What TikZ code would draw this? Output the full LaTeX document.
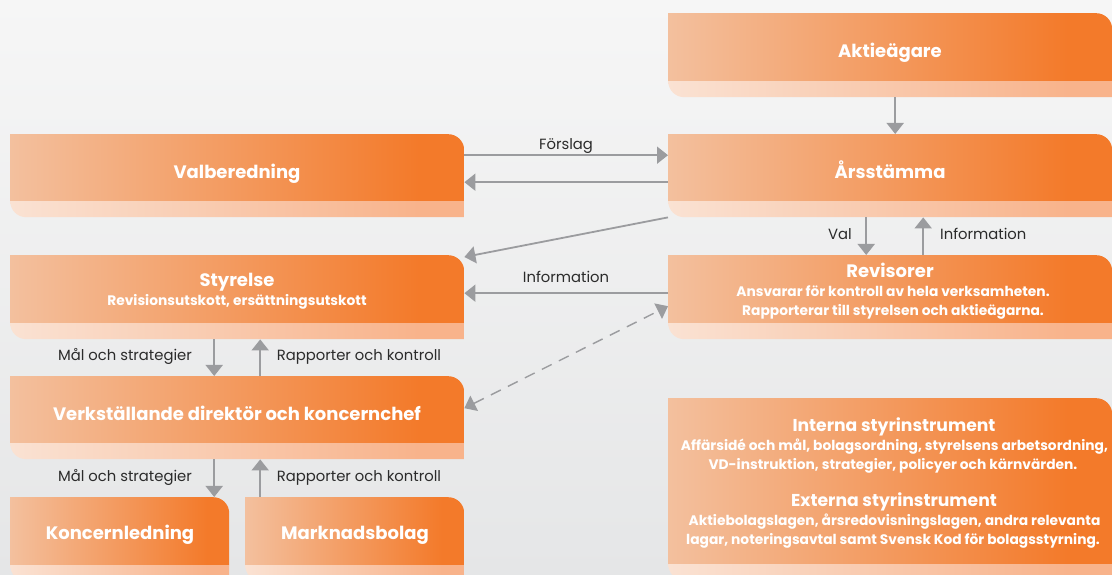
\documentclass[tikz,border=0pt]{standalone}
\usepackage{fontspec}
\setmainfont{Poppins}
\usetikzlibrary{arrows.meta,calc}

% palette
\definecolor{bgtop}{HTML}{F6F6F6}
\definecolor{bgbot}{HTML}{E5E6E7}
\definecolor{bodyA}{HTML}{F3C09E}
\definecolor{bodyB}{HTML}{F37A2A}
\definecolor{stripA}{HTML}{FAE2D3}
\definecolor{stripB}{HTML}{F8B38B}
\definecolor{arrowgray}{HTML}{9B9C9F}
\definecolor{labelgray}{HTML}{2B2B2B}

% horizontal fills for the box body and its lower band
\pgfdeclarehorizontalshading{bodyshade}{100bp}{color(0bp)=(bodyA); color(25bp)=(bodyA); color(70bp)=(bodyB); color(100bp)=(bodyB)}
\pgfdeclarehorizontalshading{stripshade}{100bp}{color(0bp)=(stripA); color(25bp)=(stripA); color(70bp)=(stripB); color(100bp)=(stripB)}

\begin{document}
\begin{tikzpicture}[x=1pt,y=1pt,
  orgbox/.style={rectangle, draw=none, inner sep=0pt, anchor=north west,
    path picture={
      \shade[shading=bodyshade] let \p1=(path picture bounding box.north west), \p2=(path picture bounding box.south east) in
        (\x1,\y1) -- (\x2-16pt,\y1) arc[start angle=90,end angle=0,radius=16pt]
        -- (\x2,\y2+16pt) -- (\x1,\y2+16pt) -- cycle;
      \shade[shading=stripshade] let \p1=(path picture bounding box.north west), \p2=(path picture bounding box.south east) in
        (\x1,\y2+16pt) -- (\x2,\y2+16pt) -- (\x2,\y2)
        -- (\x1+16pt,\y2) arc[start angle=270,end angle=180,radius=16pt] -- cycle;
    }},
  boxtitle/.style={text=white, anchor=base, inner sep=0pt, font=\bfseries\fontsize{18}{21}\selectfont},
  instrtitle/.style={boxtitle, font=\bfseries\fontsize{17.2}{21}\selectfont},
  boxsub/.style={text=white, anchor=base, inner sep=0pt, font=\bfseries\fontsize{13.8}{19}\selectfont},
  lbl/.style={text=labelgray, anchor=base, inner sep=0pt, font=\fontsize{14.8}{17}\selectfont},
  arr/.style={draw=arrowgray, line width=1.8pt, -{Triangle[length=11pt,width=17pt]}},
  dasharr/.style={draw=arrowgray, line width=1.4pt, dash pattern=on 11pt off 8pt,
    {Triangle[length=11pt,width=17pt]}-{Triangle[length=11pt,width=17pt]}}
]
\useasboundingbox (0,0) rectangle (1112,575);
\clip (0,0) rectangle (1112,575);
\shade[top color=bgtop, bottom color=bgbot] (0,0) rectangle (1112,575);

% boxes
\node[orgbox, minimum width=444pt, minimum height=84pt] (akt)  at (668,562) {};
\node[orgbox, minimum width=444pt, minimum height=83pt] (ars)  at (668,441) {};
\node[orgbox, minimum width=454pt, minimum height=83pt] (valb) at (10,441) {};
\node[orgbox, minimum width=454pt, minimum height=84pt] (sty)  at (10,320) {};
\node[orgbox, minimum width=444pt, minimum height=84pt] (rev)  at (668,320) {};
\node[orgbox, minimum width=454pt, minimum height=83pt] (vd)   at (10,199) {};
\node[orgbox, minimum width=219pt, minimum height=84pt] (kon)  at (10,78) {};
\node[orgbox, minimum width=219pt, minimum height=84pt] (mark) at (245,78) {};
\node[orgbox, minimum width=444pt, minimum height=182pt] (instr) at (668,177) {};

% box texts
\node[boxtitle] (aktT)  at (890,517) {Aktieägare};
\node[boxtitle] (arsT)  at (890,396) {Årsstämma};
\node[boxtitle] (valbT) at (237,396) {Valberedning};
\node[boxtitle] (styT)  at (237,288) {Styrelse};
\node[boxsub]   (styS)  at (237,269) {Revisionsutskott, ersättningsutskott};
\node[boxtitle] (revT)  at (890,297.7) {Revisorer};
\node[boxsub]   (revS1) at (893,278.3) {Ansvarar för kontroll av hela verksamheten.};
\node[boxsub]   (revS2) at (893,259.3) {Rapporterar till styrelsen och aktieägarna.};
\node[boxtitle] (vdT)   at (237,154.3) {Verkställande direktör och koncernchef};
\node[boxtitle] (konT)  at (120,35) {Koncernledning};
\node[boxtitle] (markT) at (355,35) {Marknadsbolag};
\node[instrtitle] (intT)  at (894,143.3) {Interna styrinstrument};
\node[boxsub]   (intS1) at (894.5,124.3) {Affärsidé och mål, bolagsordning, styrelsens arbetsordning,};
\node[boxsub]   (intS2) at (893,105) {VD-instruktion, strategier, policyer och kärnvärden.};
\node[instrtitle] (extT)  at (894,68.3) {Externa styrinstrument};
\node[boxsub]   (extS1) at (894.5,49) {Aktiebolagslagen, årsredovisningslagen, andra relevanta};
\node[boxsub]   (extS2) at (893,30) {lagar, noteringsavtal samt Svensk Kod för bolagsstyrning.};

% connectors
\draw[arr] ([xshift=5pt]akt.south) -- ([xshift=5pt]ars.north);
\draw[arr] ([yshift=20.5pt]valb.east) -- ([yshift=20.5pt]ars.west);
\node[lbl] (forslag) at (566,425.7) {Förslag};
\draw[arr] ([yshift=-6.5pt]ars.west) -- ([yshift=-6.5pt]valb.east);
\draw[arr] (ars.south west) -- ([yshift=-2pt]sty.north east);
\draw[arr] ([yshift=4pt]rev.west) -- ([yshift=4pt]sty.east);
\node[lbl] (info1) at (566,292.7) {Information};
\draw[dasharr] ([yshift=9.5pt]vd.east) -- ([yshift=-9pt]rev.west);

\draw[arr] ([xshift=-24pt]ars.south) -- ([xshift=-24pt]rev.north);
\node[lbl, anchor=base east] (val) at (852,335.7) {Val};
\draw[arr] ([xshift=33pt]rev.north) -- ([xshift=33pt]ars.south);
\node[lbl, anchor=base west] (info2) at (940,335.7) {Information};

\coordinate (sd) at ([xshift=-23pt]sty.south);
\coordinate (su) at ([xshift=23pt]sty.south);
\draw[arr] (sd) -- (sd |- vd.north);
\draw[arr] (su |- vd.north) -- (su);
\node[lbl] (mal1) at (125,214.3) {Mål och strategier};
\node[lbl] (rap1) at (359,214.3) {Rapporter och kontroll};

\coordinate (vdd) at ([xshift=-23pt]vd.south);
\coordinate (vdu) at ([xshift=23pt]vd.south);
\draw[arr] (vdd) -- (vdd |- kon.north);
\draw[arr] (vdu |- mark.north) -- (vdu);
\node[lbl] (mal2) at (125,93.3) {Mål och strategier};
\node[lbl] (rap2) at (359,93.3) {Rapporter och kontroll};
\end{tikzpicture}
\end{document}
